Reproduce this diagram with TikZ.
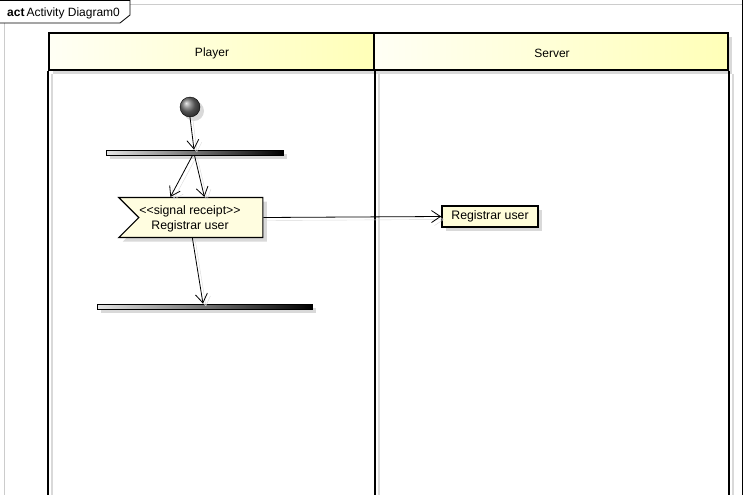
\documentclass[tikz,border=0pt]{standalone}
\usepackage{fontspec}
\setmainfont{Liberation Sans}
\usetikzlibrary{shapes.symbols,shadows,arrows.meta}
\begin{document}
\begin{tikzpicture}[x=1pt,y=-1pt, font=\fontsize{12}{14}\selectfont,
  lane/.style={line width=1.6pt},
  laneshadow/.style={black!15, line width=1.6pt},
  shadowed/.style={drop shadow={shadow xshift=4pt,shadow yshift=-4pt,fill=black!15,opacity=1}},
  header/.style={draw, line width=1.6pt, left color=yellow!4, right color=yellow!28, minimum height=37pt, inner sep=0pt, shadowed},
  bar/.style={draw, line width=0.8pt, left color=black!10, right color=black, minimum height=5pt, inner sep=0pt, shadowed},
  conn/.style={line width=0.8pt, -{Straight Barb[length=9pt,width=12pt]}, preaction={draw=black!15, transform canvas={shift={(3pt,-3pt)}}}},
  framegray/.style={black!20, line width=0.8pt},
]
\useasboundingbox (0,0) rectangle (746,495);
% frame
\draw[framegray] (4,23) -- (4,495);
\draw[framegray] (130,4) -- (742,4);
\draw[line width=0.8pt] (742.5,0) -- (742.5,495);
\draw[line width=0.8pt] (0,0.4) -- (130,0.4) -- (130,15) -- (120,23) -- (0,23);
\node[anchor=west, inner sep=0pt] (title) at (7,13) {\textbf{act}\,Activity Diagram0};
% swimlanes
\node[header, minimum width=325pt] (hplayer) at (211.5,51.5) {};
\node[header, minimum width=354pt] (hserver) at (551,51.5) {};
\node[inner sep=0pt] (tplayer) at (212,53) {Player};
\node[inner sep=0pt] (tserver) at (552,53) {Server};
\draw[laneshadow] ([xshift=4pt,yshift=-3pt]hplayer.south west) -- ([xshift=4pt]hplayer.south west |- 0,495);
\draw[laneshadow] ([xshift=4pt,yshift=-3pt]hplayer.south east) -- ([xshift=4pt]hplayer.south east |- 0,495);
\draw[laneshadow] ([xshift=4pt,yshift=-3pt]hserver.south east) -- ([xshift=4pt]hserver.south east |- 0,495);
\draw[lane] (hplayer.south west) -- (hplayer.south west |- 0,495);
\draw[lane] (hplayer.south east) -- (hplayer.south east |- 0,495);
\draw[lane] (hserver.south east) -- (hserver.south east |- 0,495);
% nodes
\node[circle, draw, minimum size=20pt, inner sep=0pt, ball color=black!55, shadowed] (init) at (190,107) {};
\node[bar, minimum width=177pt] (fork1) at (194.5,152.5) {};
\node[signal, signal from=west, signal to=nowhere, draw, line width=1.2pt, fill=yellow!12,
      minimum width=144pt, minimum height=40pt, inner sep=0pt, shadowed, anchor=west] (sig) at (138,217.5) {};
\node[align=center, inner sep=0pt, font=\fontsize{12.3}{15.5}\selectfont] (sigtext) at (190,219) {<{}<signal receipt>{}>\\Registrar user};
\node[draw, line width=1.6pt, fill=yellow!15, minimum width=96pt, minimum height=21pt, inner sep=0pt, shadowed, font=\fontsize{12.3}{14}\selectfont] (act) at (490,216.5) {Registrar user};
\node[bar, minimum width=215pt] (fork2) at (204.5,306.5) {};
% connectors
\draw[conn] (init.south) -- ([xshift=-0.5pt]fork1.north);
\draw[conn] ([xshift=-2pt]fork1.south) -- ([xshift=53pt]sig.north west);
\draw[conn] (fork1.south) -- ([xshift=87pt]sig.north west);
\draw[conn] ([xshift=75pt]sig.south west) -- ([xshift=-1.5pt]fork2.north);
\draw[conn] (sig.east) -- (act.west);
\end{tikzpicture}
\end{document}
